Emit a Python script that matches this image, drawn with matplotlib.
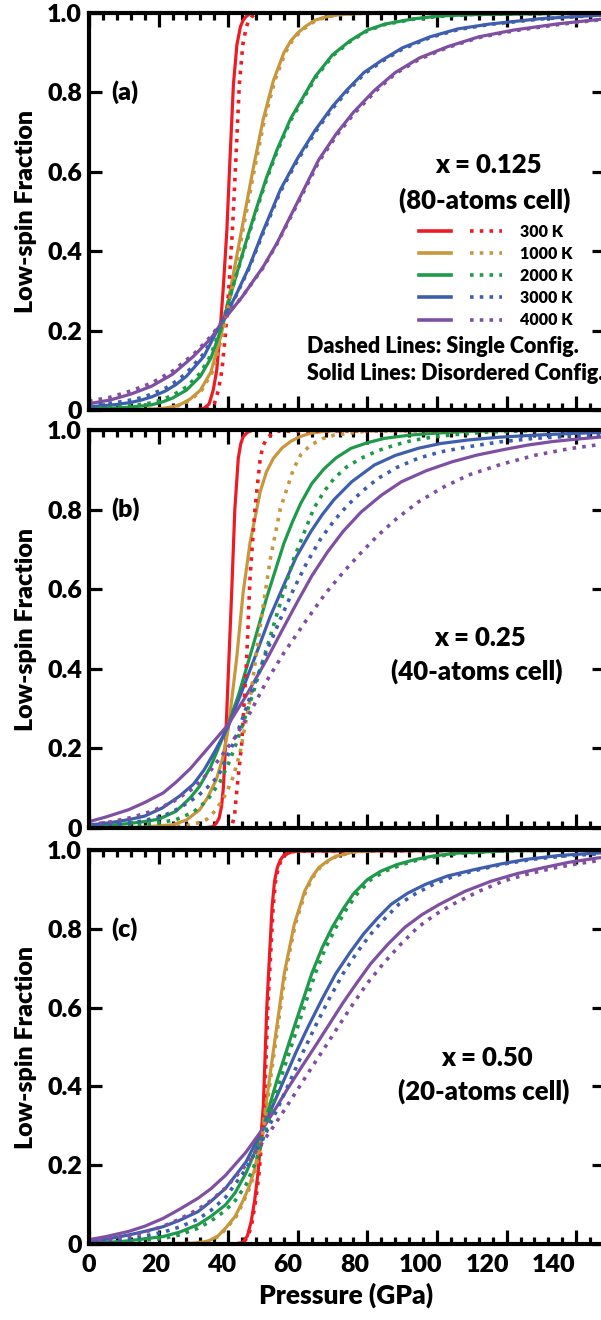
import matplotlib
matplotlib.use('Agg')
import matplotlib.pyplot as plt
from matplotlib.ticker import MultipleLocator, FixedLocator, FuncFormatter, NullLocator
from matplotlib.lines import Line2D
from matplotlib.legend_handler import HandlerTuple

TEMPS = ['300 K', '1000 K', '2000 K', '3000 K', '4000 K']
COLORS = ['#ED1C24', '#C8963C', '#1E9A4A', '#3F5FAE', '#7F4FA2']
PRESSURE_LABELS = [0, 20, 40, 60, 80, 100, 120, 140]

# ---- panel (a): x = 0.125, 80-atoms cell ----
A300_P = [0, 30, 33, 34.5, 35.7, 36.7, 37.6, 38.6, 39.6, 40.5, 41.5, 42.5, 43.5, 44.2, 45, 46, 47, 148]
A300_F = [0, 0, 0.004, 0.015, 0.05, 0.1, 0.19, 0.31, 0.45, 0.63, 0.82, 0.92, 0.965, 0.98, 0.99, 0.997, 1.0, 1.0]
A300D_P = [0, 31, 34.5, 36, 37.2, 38.2, 39.2, 40.2, 41.2, 42.2, 43.2, 44.2, 45.2, 45.9, 46.7, 47.7, 48.7, 148]
A300D_F = [0, 0, 0.004, 0.015, 0.05, 0.1, 0.19, 0.31, 0.45, 0.63, 0.82, 0.92, 0.965, 0.98, 0.99, 0.997, 1.0, 1.0]
A1000_P = [0, 15, 20, 22, 24, 26, 29, 32, 35, 38, 41, 44, 47, 50, 53, 56, 58, 60, 62.5, 65, 68, 72, 78, 148]
A1000_F = [0, 0.001, 0.003, 0.005, 0.008, 0.013, 0.027, 0.05, 0.095, 0.19, 0.32, 0.46, 0.6, 0.73, 0.83, 0.9,
           0.93, 0.95, 0.968, 0.982, 0.99, 0.996, 0.999, 1.0]
A1000D_P = [0, 15.4, 20.4, 22.4, 24.4, 26.4, 29.4, 32.4, 35.4, 38.4, 41.4, 44.4, 47.4, 50.4, 53.4, 56.4,
            58.4, 60.4, 62.9, 65.4, 68.4, 72.4, 78.4, 148]
A1000D_F = [0, 0.001, 0.003, 0.005, 0.008, 0.013, 0.027, 0.05, 0.095, 0.19, 0.32, 0.46, 0.6, 0.73, 0.83, 0.9,
            0.93, 0.95, 0.968, 0.982, 0.99, 0.996, 0.999, 1.0]
A2000_P = [0, 5, 10, 14, 18, 21, 24, 28, 32, 35, 38, 42, 45, 48, 51, 54, 58, 61, 65, 70, 75, 80, 85, 93, 100,
           110, 148]
A2000_F = [0.002, 0.004, 0.006, 0.009, 0.013, 0.02, 0.03, 0.05, 0.085, 0.13, 0.205, 0.33, 0.42, 0.505, 0.585,
           0.655, 0.735, 0.78, 0.84, 0.895, 0.93, 0.957, 0.972, 0.985, 0.992, 0.996, 1.0]
A2000D_F = [0.004, 0.006, 0.009, 0.013, 0.018, 0.026, 0.037, 0.058, 0.093, 0.138, 0.21, 0.33, 0.415, 0.5, 0.58,
            0.65, 0.73, 0.775, 0.836, 0.892, 0.928, 0.955, 0.971, 0.984, 0.991, 0.996, 1.0]
A3000_P = [0, 4, 8, 12, 15, 18, 22, 25, 28, 33, 38, 42, 46, 50, 55, 60, 65, 70, 74, 79, 84, 90, 98, 106, 115,
           130, 148]
A3000_F = [0.008, 0.011, 0.014, 0.019, 0.025, 0.033, 0.048, 0.064, 0.085, 0.135, 0.22, 0.285, 0.36, 0.45, 0.555,
           0.635, 0.705, 0.765, 0.805, 0.85, 0.88, 0.912, 0.94, 0.96, 0.972, 0.986, 0.995]
A3000D_F = [0.012, 0.015, 0.019, 0.025, 0.031, 0.04, 0.055, 0.072, 0.093, 0.142, 0.222, 0.283, 0.357, 0.445,
            0.55, 0.63, 0.7, 0.76, 0.8, 0.846, 0.877, 0.909, 0.938, 0.958, 0.971, 0.985, 0.995]
A4000_P = [0, 6, 12, 18, 24, 30, 35, 39, 44, 50, 54, 58, 62, 66, 71, 76, 82, 88, 95, 103, 112, 122, 135, 148]
A4000_F = [0.016, 0.025, 0.04, 0.06, 0.09, 0.135, 0.18, 0.23, 0.285, 0.36, 0.42, 0.49, 0.56, 0.63, 0.695, 0.75,
           0.805, 0.85, 0.887, 0.915, 0.94, 0.957, 0.973, 0.985]
A4000D_F = [0.022, 0.032, 0.048, 0.068, 0.098, 0.14, 0.185, 0.232, 0.285, 0.358, 0.418, 0.487, 0.555, 0.625,
            0.69, 0.745, 0.8, 0.847, 0.884, 0.913, 0.938, 0.955, 0.971, 0.984]

# ---- panel (b): x = 0.25, 40-atoms cell ----
B300_P = [0, 33, 35.5, 36.6, 37.4, 38.1, 38.6, 39, 40, 41, 41.9, 42.9, 43.6, 44.3, 45.5, 47.2, 148]
B300_F = [0, 0, 0.003, 0.012, 0.025, 0.055, 0.1, 0.165, 0.38, 0.592, 0.8, 0.929, 0.965, 0.983, 0.994, 1.0, 1.0]
B300D_P = [0, 39.5, 41, 41.8, 42.4, 43.9, 45.3, 46.3, 47.7, 49.2, 50, 51.1, 52.5, 54, 148]
B300D_F = [0, 0, 0.004, 0.03, 0.088, 0.214, 0.424, 0.634, 0.803, 0.929, 0.96, 0.979, 0.99, 0.997, 1.0]
B1000_P = [0, 15, 24, 28, 31.8, 34, 36.6, 38.4, 40, 42.4, 44.3, 46.3, 49.2, 51, 53, 55.5, 57.9, 60.5, 63.7, 68,
           75, 148]
B1000_F = [0, 0.002, 0.008, 0.02, 0.046, 0.075, 0.122, 0.175, 0.248, 0.424, 0.592, 0.718, 0.845, 0.895, 0.929,
           0.955, 0.971, 0.983, 0.992, 0.997, 1.0, 1.0]
B1000D_P = [0, 20, 28, 31, 33.7, 36.5, 39.5, 41.5, 43.4, 46.3, 49.2, 52.1, 55, 58.8, 61, 63.7, 67, 70.4, 80, 148]
B1000D_F = [0, 0.001, 0.006, 0.012, 0.021, 0.045, 0.088, 0.13, 0.189, 0.324, 0.508, 0.676, 0.803, 0.903, 0.94,
            0.962, 0.978, 0.987, 0.998, 1.0]
B2000_P = [0, 5, 10, 15, 20, 25, 29, 31.8, 35, 40, 43, 47.2, 51.1, 54, 56, 58.5, 60.8, 64, 67.5, 71, 75.3, 80,
           84.9, 92, 99.4, 110, 120, 148]
B2000_F = [0.004, 0.006, 0.01, 0.015, 0.022, 0.042, 0.075, 0.105, 0.155, 0.26, 0.335, 0.46, 0.58, 0.66, 0.715,
           0.77, 0.815, 0.865, 0.902, 0.93, 0.954, 0.968, 0.979, 0.987, 0.992, 0.997, 0.999, 1.0]
B2000D_P = [0, 5, 10, 15, 20, 25, 30, 34, 37.6, 40, 42.4, 47.2, 53, 58.8, 64.6, 67.5, 70.4, 74, 78.2, 83, 87.8,
            93, 99.4, 107, 115, 130, 148]
B2000D_F = [0.002, 0.003, 0.005, 0.008, 0.013, 0.021, 0.04, 0.07, 0.115, 0.16, 0.214, 0.34, 0.508, 0.676, 0.803,
            0.845, 0.878, 0.907, 0.929, 0.948, 0.962, 0.974, 0.983, 0.99, 0.995, 0.999, 1.0]
B3000_P = [0, 4, 8, 12, 16, 21, 26, 30, 33, 36, 40, 44, 48.2, 52, 55.9, 59.5, 63.7, 67, 70.4, 75.5, 82, 88,
           94.6, 101, 109, 118, 128, 138, 148]
B3000_F = [0.008, 0.011, 0.016, 0.022, 0.03, 0.05, 0.08, 0.11, 0.145, 0.19, 0.255, 0.345, 0.441, 0.53, 0.609,
           0.68, 0.744, 0.787, 0.825, 0.87, 0.912, 0.936, 0.954, 0.966, 0.975, 0.982, 0.987, 0.991, 0.994]
B3000D_P = [0, 4, 8, 15, 21.3, 26, 31.2, 34, 37.1, 41.6, 44.3, 47.5, 51.1, 55, 58.8, 62.5, 66.6, 70.5, 74.3,
            78.5, 83, 88.5, 94.6, 101, 109, 118, 128, 138, 148]
B3000D_F = [0.004, 0.006, 0.009, 0.017, 0.03, 0.05, 0.08, 0.102, 0.13, 0.215, 0.28, 0.36, 0.445, 0.525, 0.6,
            0.665, 0.727, 0.773, 0.811, 0.846, 0.878, 0.906, 0.929, 0.945, 0.958, 0.97, 0.979, 0.984, 0.987]
B4000_P = [0, 5, 11.4, 16, 21.3, 25, 29.2, 35.1, 40, 45, 51.1, 55.5, 59.8, 64, 68.5, 73, 78.2, 84, 89.8, 97,
           104.3, 111.5, 118.7, 126, 133.2, 140, 148]
B4000_F = [0.016, 0.028, 0.046, 0.064, 0.088, 0.115, 0.15, 0.21, 0.26, 0.33, 0.424, 0.497, 0.567, 0.633, 0.693,
           0.745, 0.794, 0.836, 0.87, 0.898, 0.92, 0.937, 0.95, 0.962, 0.971, 0.977, 0.983]
B4000D_P = [0, 6, 12, 18, 24, 30, 35, 41.6, 46.3, 51.1, 56, 62.7, 68, 73.3, 78, 83, 88.5, 94.6, 101.5, 109.1,
            118.5, 128.4, 138, 148]
B4000D_F = [0.008, 0.015, 0.026, 0.042, 0.065, 0.1, 0.145, 0.223, 0.29, 0.37, 0.44, 0.525, 0.59, 0.645, 0.69,
            0.735, 0.778, 0.819, 0.855, 0.887, 0.914, 0.937, 0.953, 0.965]

# ---- panel (c): x = 0.50, 20-atoms cell ----
C300_P = [0, 42, 44.1, 45.5, 46.6, 47.6, 48.6, 50.1, 51.1, 52.6, 53.3, 54.1, 55, 56.1, 59, 148]
C300_F = [0, 0, 0.004, 0.02, 0.057, 0.11, 0.183, 0.351, 0.602, 0.854, 0.92, 0.955, 0.975, 0.988, 0.997, 1.0]
C300D_P = [0, 42.3, 44.4, 45.8, 46.9, 47.9, 48.9, 50.4, 51.4, 52.9, 53.6, 54.4, 55.3, 56.4, 59.3, 148]
C1000_P = [0, 20, 30, 34.2, 37, 39.2, 42, 44.1, 46, 47.6, 49.9, 52.1, 54.1, 56.1, 59, 62, 64, 66, 68.5, 70.9,
           76, 85, 148]
C1000_F = [0, 0, 0.002, 0.007, 0.02, 0.04, 0.07, 0.107, 0.145, 0.19, 0.292, 0.435, 0.56, 0.686, 0.812, 0.896,
           0.93, 0.955, 0.972, 0.984, 0.995, 1.0, 1.0]
C1000D_P = [0, 20, 30.3, 34.5, 37.3, 39.5, 42.3, 44.4, 46.3, 47.9, 50.2, 52.4, 54.4, 56.4, 59.3, 62.3, 64.3,
            66.3, 68.8, 71.2, 76.3, 85.3, 148]
C2000_P = [0, 5, 10, 15, 21.3, 26, 31.3, 35, 39.2, 42, 45.1, 47.5, 49.9, 54.1, 59, 64, 67, 69.9, 73, 75.9, 80,
           83.8, 88.5, 93.8, 99, 105.7, 120.5, 148]
C2000_F = [0.002, 0.004, 0.007, 0.012, 0.019, 0.03, 0.049, 0.07, 0.099, 0.13, 0.18, 0.23, 0.292, 0.418, 0.552,
           0.686, 0.752, 0.804, 0.85, 0.888, 0.925, 0.946, 0.963, 0.976, 0.985, 0.992, 0.998, 1.0]
C2000D_P = [0, 5, 10, 15, 21.3, 26, 31.3, 35, 39.2, 42, 45.1, 48, 50.5, 55, 60, 65, 68, 71, 74, 77, 81, 85, 90,
            95, 101, 107, 121, 148]
C2000D_F = [0.001, 0.003, 0.005, 0.009, 0.014, 0.023, 0.04, 0.058, 0.085, 0.11, 0.15, 0.21, 0.28, 0.418, 0.552,
            0.686, 0.752, 0.804, 0.85, 0.888, 0.925, 0.946, 0.963, 0.976, 0.985, 0.992, 0.998, 1.0]
C3000_P = [0, 5, 11.4, 16, 21.3, 26, 31.3, 35, 39.2, 45.1, 49.9, 53, 56.1, 59.5, 63, 67, 70.9, 75, 78.9, 82.8,
           86.8, 91.5, 96.7, 103, 110.6, 118, 125.5, 135, 145.3, 148]
C3000_F = [0.006, 0.012, 0.023, 0.032, 0.044, 0.06, 0.082, 0.108, 0.141, 0.208, 0.292, 0.355, 0.418, 0.487,
           0.552, 0.622, 0.686, 0.74, 0.787, 0.826, 0.862, 0.89, 0.913, 0.934, 0.95, 0.964, 0.976, 0.986, 0.992,
           0.993]
C3000D_P = [0, 5, 11.4, 16, 21.3, 26, 31.3, 35, 39.2, 45.1, 51, 54.5, 58, 61.5, 65, 69, 73, 77, 81, 85, 89, 94,
            99, 105, 112, 119, 127, 137, 146, 148]
C3000D_F = [0.003, 0.006, 0.013, 0.02, 0.03, 0.043, 0.063, 0.085, 0.118, 0.19, 0.285, 0.35, 0.418, 0.487, 0.552,
            0.622, 0.686, 0.74, 0.787, 0.826, 0.862, 0.89, 0.913, 0.934, 0.95, 0.964, 0.976, 0.985, 0.99, 0.991]
C4000_P = [0, 5, 11.4, 16, 21.3, 26, 31.3, 35, 39.2, 45.1, 49.9, 53.5, 57, 61, 65, 69, 72.9, 76.9, 80.9, 85.8,
           90.8, 95.7, 100.7, 108, 115.6, 123, 130.5, 138, 146.3, 148]
C4000_F = [0.011, 0.019, 0.032, 0.045, 0.065, 0.088, 0.116, 0.14, 0.174, 0.233, 0.292, 0.342, 0.393, 0.448,
           0.502, 0.557, 0.611, 0.662, 0.711, 0.76, 0.804, 0.836, 0.862, 0.895, 0.921, 0.94, 0.955, 0.969, 0.98,
           0.981]
C4000D_P = [0, 5, 11.4, 16, 21.3, 26, 31.3, 35, 39.2, 45.1, 52, 56, 60, 64, 68, 72, 76, 80, 84.5, 89.5, 94.5,
            99.5, 104.5, 112, 119, 126.5, 134, 141, 148]
C4000D_F = [0.006, 0.011, 0.02, 0.03, 0.045, 0.063, 0.088, 0.11, 0.142, 0.2, 0.285, 0.338, 0.393, 0.448, 0.502,
            0.557, 0.611, 0.662, 0.711, 0.76, 0.804, 0.836, 0.862, 0.895, 0.921, 0.94, 0.955, 0.966, 0.975]

PANELS = [
    {'tag': '(a)', 'comp': 'x = 0.125', 'cell': '(80-atoms cell)', 'pos': (114.7, 0.617, 0.529),
     'solid': [(A300_P, A300_F), (A1000_P, A1000_F), (A2000_P, A2000_F), (A3000_P, A3000_F), (A4000_P, A4000_F)],
     'dotted': [(A300D_P, A300D_F), (A1000D_P, A1000D_F), (A2000_P, A2000D_F), (A3000_P, A3000D_F),
                (A4000_P, A4000D_F)]},
    {'tag': '(b)', 'comp': 'x = 0.25', 'cell': '(40-atoms cell)', 'pos': (112.4, 0.477, 0.393),
     'solid': [(B300_P, B300_F), (B1000_P, B1000_F), (B2000_P, B2000_F), (B3000_P, B3000_F), (B4000_P, B4000_F)],
     'dotted': [(B300D_P, B300D_F), (B1000D_P, B1000D_F), (B2000D_P, B2000D_F), (B3000D_P, B3000D_F),
                (B4000D_P, B4000D_F)]},
    {'tag': '(c)', 'comp': 'x = 0.50', 'cell': '(20-atoms cell)', 'pos': (114.3, 0.472, 0.388),
     'solid': [(C300_P, C300_F), (C1000_P, C1000_F), (C2000_P, C2000_F), (C3000_P, C3000_F), (C4000_P, C4000_F)],
     'dotted': [(C300D_P, C300_F), (C1000D_P, C1000_F), (C2000D_P, C2000D_F), (C3000D_P, C3000D_F),
                (C4000D_P, C4000D_F)]},
]

plt.rcParams['font.family'] = ['Lato', 'DejaVu Sans']
plt.rcParams['font.weight'] = 'heavy'

W, H = 601, 1320
fig = plt.figure(figsize=(W / 100, H / 100), dpi=100)

# panel boxes in pixels (top, bottom); the right spine sits just past the image edge
BOXES = [(13, 410), (430, 828), (850, 1244)]
LEFT, PX_PER_GPA, XMAX = 89, 3.48, 148
# the printed pressure labels in the original sit on a slightly tighter spacing than its ticks
LABEL_SQUEEZE = 0.954

DOTS = (0, (1, 1.7))
FW = 'heavy'


def yfmt(v, pos):
    return '0' if abs(v) < 1e-9 else f'{v:.1f}'


for i, (panel, (top, bot)) in enumerate(zip(PANELS, BOXES)):
    ax = fig.add_axes([LEFT / W, 1 - bot / H, XMAX * PX_PER_GPA / W, (bot - top) / H])
    for (p, f), col in zip(panel['solid'], COLORS):
        ax.plot(p, f, color=col, lw=2.3, solid_capstyle='butt', solid_joinstyle='round')
    for (p, f), col in zip(panel['dotted'], COLORS):
        ax.plot(p, f, color=col, lw=2.6, ls=DOTS, dash_capstyle='butt')

    ax.set_xlim(0, XMAX)
    ax.set_ylim(0, 1)
    ax.xaxis.set_major_locator(MultipleLocator(20))
    ax.xaxis.set_minor_locator(MultipleLocator(4))
    ax.yaxis.set_major_locator(MultipleLocator(0.2))
    ax.yaxis.set_minor_locator(NullLocator())
    ax.yaxis.set_major_formatter(FuncFormatter(yfmt))
    for s in ax.spines.values():
        s.set_linewidth(3.0)
    ax.tick_params(axis='x', which='major', direction='in', length=10, width=2.3,
                   top=True, bottom=True, labelbottom=False)
    ax.tick_params(axis='x', which='minor', direction='in', length=5, width=2.3,
                   top=True, bottom=True)
    ax.tick_params(axis='y', which='major', direction='in', length=9, width=2.3,
                   left=True, right=True, labelsize=18, pad=5)
    if i == 2:
        sec = ax.secondary_xaxis('bottom', functions=(lambda p: p / LABEL_SQUEEZE,
                                                      lambda v: v * LABEL_SQUEEZE))
        sec.xaxis.set_major_locator(FixedLocator(PRESSURE_LABELS))
        sec.xaxis.set_minor_locator(NullLocator())
        sec.spines['bottom'].set_visible(False)
        sec.tick_params(axis='x', length=0, labelsize=18, pad=7)
        sec.set_xlabel('Pressure (GPa)', fontsize=19, fontweight=FW, labelpad=5)

    ax.set_ylabel('Low-spin Fraction', fontsize=18, fontweight=FW)
    ax.yaxis.set_label_coords(-0.10, 0.5)

    ax.text(6.5, 0.8, panel['tag'], fontsize=18, fontweight=FW, ha='left', va='center')

    cx, cy1, cy2 = panel['pos']
    ax.text(cx, cy1, panel['comp'], fontsize=18.5, fontweight=FW, ha='center', va='center')
    ax.text(cx - 1.0, cy2, panel['cell'], fontsize=18.5, fontweight=FW, ha='center', va='center')

    if i == 0:
        handles = [(Line2D([], [], color=c, lw=2.6), Line2D([], [], color=c, lw=2.6, ls=DOTS))
                   for c in COLORS]
        ax.legend(handles, TEMPS, handler_map={tuple: HandlerTuple(ndivide=None, pad=1.2)},
                  loc='center', bbox_to_anchor=(0.79, 0.3375), frameon=False,
                  prop={'size': 11.5, 'weight': FW}, handlelength=5.2,
                  handletextpad=1.1, labelspacing=0.38, borderpad=0, borderaxespad=0)
        ax.text(62.6, 0.159, 'Dashed Lines: Single Config.', fontsize=15.5, fontweight=FW,
                ha='left', va='center')
        ax.text(62.6, 0.093, 'Solid Lines: Disordered Config.', fontsize=15.5, fontweight=FW,
                ha='left', va='center', clip_on=False)

fig.savefig('out.png', dpi=100)
